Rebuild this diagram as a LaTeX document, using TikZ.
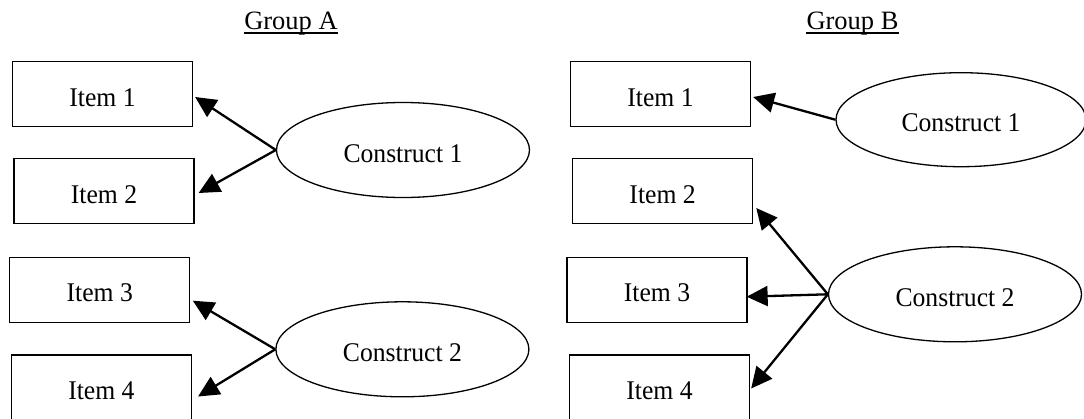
\documentclass[tikz,border=0pt]{standalone}
\usepackage{fontspec}
\setmainfont{Liberation Serif}
\newfontfamily\boxfont{Liberation Serif}[FakeStretch=0.95]
\usetikzlibrary{arrows.meta,shapes.geometric}
\begin{document}
\begin{tikzpicture}[x=1pt,y=-1pt,
  labeltext/.style={font=\boxfont\fontsize{27}{31}\selectfont,text height=24pt,text depth=0pt},
  itembox/.style={labeltext,draw,line width=1.3pt,minimum width=180pt,minimum height=65pt,inner sep=0pt},
  construct/.style={labeltext,draw,ellipse,line width=1.3pt,minimum width=253pt,minimum height=95pt,inner sep=0pt},
  title/.style={font=\fontsize{26.5}{30}\selectfont,inner sep=0pt,anchor=base},
  uline/.style={line width=1.2pt},
  arr/.style={line width=2.3pt,-{Triangle[length=21pt,width=20pt]}}]
\useasboundingbox (0,0) rectangle (1084,418);
% titles
\node[title] (GA) at (291,29) {Group A};
\node[title] (GB) at (852.5,29) {Group B};
\draw[uline] ([yshift=-4pt]GA.base west) -- ([yshift=-4pt]GA.base east);
\draw[uline] ([yshift=-4pt]GB.base west) -- ([yshift=-4pt]GB.base east);
% group A
\node[itembox] (A1) at (102.5,94) {Item 1};
\node[itembox] (A2) at (104,191) {Item 2};
\node[itembox] (A3) at (99.7,289.7) {Item 3};
\node[itembox] (A4) at (101.4,387.5) {Item 4};
\node[construct] (CA1) at (403,150) {Construct 1};
\node[construct] (CA2) at (402.4,349.3) {Construct 2};
\draw[arr] (CA1.west) -- ([shift={(2,3)}]A1.east);
\draw[arr] (CA1.west) -- ([shift={(4,2)}]A2.east);
\draw[arr] (CA2.west) -- ([shift={(2.5,11)}]A3.east);
\draw[arr] (CA2.west) -- ([shift={(6,9)}]A4.east);
% group B
\node[itembox] (B1) at (660.5,94) {Item 1};
\node[itembox] (B2) at (662.6,191) {Item 2};
\node[itembox] (B3) at (657,289.7) {Item 3};
\node[itembox] (B4) at (659.5,387.5) {Item 4};
\node[construct,minimum width=250pt,minimum height=94pt] (CB1) at (961,119.7) {Construct 1};
\node[construct] (CB2) at (955,294.3) {Construct 2};
\draw[arr] (CB1.west) -- ([shift={(2,3)}]B1.east);
\draw[arr] (CB2.west) -- ([shift={(3,17)}]B2.east);
\draw[arr] (CB2.west) -- ([shift={(-1,7)}]B3.east);
\draw[arr] (CB2.west) -- ([shift={(1,1)}]B4.east);
\end{tikzpicture}
\end{document}
